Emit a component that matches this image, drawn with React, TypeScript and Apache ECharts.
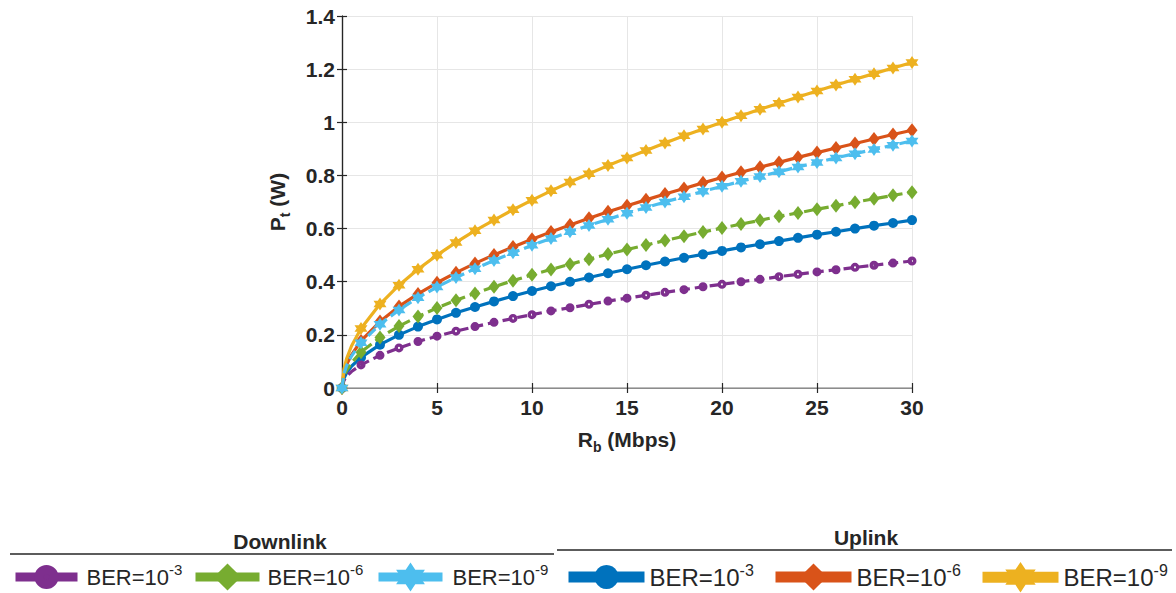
import React, { useEffect, useRef } from "react";
import * as echarts from "echarts";

const X_VALUES = [0, 0.1, 0.25, 0.5, 1, 2, 3, 4, 5, 6, 7, 8, 9, 10, 11, 12, 13, 14, 15, 16, 17, 18, 19, 20, 21, 22, 23, 24, 25, 26, 27, 28, 29, 30];

const DL_1E3 = [0, 0.028, 0.044, 0.062, 0.087, 0.123, 0.151, 0.175, 0.195, 0.214, 0.231, 0.247, 0.262, 0.276, 0.29, 0.302, 0.315, 0.327, 0.338, 0.349, 0.36, 0.37, 0.381, 0.39, 0.4, 0.409, 0.419, 0.428, 0.437, 0.445, 0.454, 0.462, 0.47, 0.478];
const DL_1E6 = [0, 0.043, 0.067, 0.095, 0.135, 0.19, 0.233, 0.269, 0.301, 0.33, 0.356, 0.381, 0.404, 0.426, 0.446, 0.466, 0.485, 0.504, 0.521, 0.538, 0.555, 0.571, 0.587, 0.602, 0.617, 0.631, 0.646, 0.659, 0.673, 0.686, 0.699, 0.712, 0.725, 0.737];
const DL_1E9 = [0, 0.054, 0.085, 0.12, 0.17, 0.24, 0.294, 0.34, 0.38, 0.416, 0.449, 0.48, 0.509, 0.537, 0.563, 0.588, 0.612, 0.635, 0.658, 0.679, 0.7, 0.72, 0.74, 0.759, 0.778, 0.796, 0.814, 0.832, 0.849, 0.866, 0.882, 0.898, 0.914, 0.93];
const UL_1E3 = [0, 0.036, 0.058, 0.082, 0.115, 0.163, 0.2, 0.231, 0.258, 0.283, 0.305, 0.326, 0.346, 0.365, 0.383, 0.4, 0.416, 0.432, 0.447, 0.462, 0.476, 0.49, 0.503, 0.516, 0.529, 0.541, 0.553, 0.565, 0.577, 0.588, 0.6, 0.611, 0.621, 0.632];
const UL_1E6 = [0, 0.056, 0.089, 0.125, 0.177, 0.25, 0.307, 0.354, 0.396, 0.434, 0.469, 0.501, 0.531, 0.56, 0.587, 0.613, 0.639, 0.663, 0.686, 0.708, 0.73, 0.751, 0.772, 0.792, 0.812, 0.831, 0.849, 0.868, 0.886, 0.903, 0.92, 0.937, 0.954, 0.97];
const UL_1E9 = [0, 0.071, 0.112, 0.158, 0.224, 0.316, 0.387, 0.447, 0.5, 0.548, 0.592, 0.632, 0.671, 0.707, 0.742, 0.775, 0.806, 0.837, 0.866, 0.894, 0.922, 0.949, 0.975, 1.0, 1.025, 1.049, 1.072, 1.095, 1.118, 1.14, 1.162, 1.183, 1.204, 1.225];

const X_TICKS = [0, 5, 10, 15, 20, 25, 30];
const Y_TICKS = [0, 0.2, 0.4, 0.6, 0.8, 1, 1.2, 1.4];

const STAR = "path://M50 0 L64.4 25 L93.3 25 L78.9 50 L93.3 75 L64.4 75 L50 100 L35.6 75 L6.7 75 L21.1 50 L6.7 25 L35.6 25 Z";
const RING = "path://M50 0 A50 50 0 1 1 50 100 A50 50 0 1 1 50 0 Z M50 38 A12 12 0 1 0 50 62 A12 12 0 1 0 50 38 Z";

const FONT = "'Liberation Sans', Arial, Helvetica, sans-serif";
const TXT = "#262626";

// drawing order: uplink first, downlink on top (as in the reference)
const SERIES_DEF = [
  { id: "ul3", exp: "-3", values: UL_1E3, color: "#0072BD", dashed: false, symbol: "circle", size: [10, 10], lg: { left: 563, w: 76, h: 30, lw: 11, pad: 0, fs: 24, ss: 16 } },
  { id: "ul6", exp: "-6", values: UL_1E6, color: "#D95319", dashed: false, symbol: "diamond", size: [11, 14], lg: { left: 770, w: 76, h: 34, lw: 11, pad: 0, fs: 24, ss: 16 } },
  { id: "ul9", exp: "-9", values: UL_1E9, color: "#EDB120", dashed: false, symbol: STAR, size: [13, 13], lg: { left: 977, w: 76, h: 38, lw: 11, pad: 0, fs: 24, ss: 16 } },
  { id: "dl3", exp: "-3", values: DL_1E3, color: "#7E2F8E", dashed: true, symbol: RING, size: [9, 9], lg: { left: 11, w: 62, h: 30, lw: 9, pad: 4, fs: 22, ss: 15 } },
  { id: "dl6", exp: "-6", values: DL_1E6, color: "#77AC30", dashed: true, symbol: "diamond", size: [11, 14], lg: { left: 191, w: 64, h: 34, lw: 9, pad: 3, fs: 22, ss: 15 } },
  { id: "dl9", exp: "-9", values: DL_1E9, color: "#4DBEEE", dashed: true, symbol: STAR, size: [13, 13], lg: { left: 374, w: 64, h: 36, lw: 9, pad: 5, fs: 22, ss: 15 } },
];

export default function App() {
  const ref = useRef<HTMLDivElement>(null);

  useEffect(() => {
    document.body.style.margin = "0";
    if (!ref.current) return;
    const chart = echarts.init(ref.current, undefined, { renderer: "svg" });

    const series = SERIES_DEF.map((s, k) => ({
      name: s.id,
      type: "line",
      xAxisIndex: 0,
      yAxisIndex: 0,
      symbol: s.symbol,
      symbolSize: s.size,
      showAllSymbol: true,
      smooth: false,
      lineStyle: { color: s.color, width: 3.2, type: s.dashed ? [10, 5] : "solid" },
      itemStyle: { color: s.color, borderWidth: 0 },
      data: X_VALUES.map((x, i) => {
        const isMarker = Number.isInteger(x);
        return isMarker ? [x, s.values[i]] : { value: [x, s.values[i]], symbol: "none" };
      }),
      z: 3 + k,
    }));

    const legend = SERIES_DEF.map((s) => ({
      data: [s.id],
      left: s.lg.left,
      top: 562,
      padding: 0,
      itemWidth: s.lg.w,
      itemHeight: s.lg.h,
      selectedMode: false,
      lineStyle: { width: s.lg.lw, type: "solid" },
      formatter: () => `{b|BER=10}{sup|${s.exp}}`,
      textStyle: {
        fontFamily: FONT,
        color: TXT,
        padding: [0, 0, 0, s.lg.pad],
        rich: {
          b: { fontFamily: FONT, fontSize: s.lg.fs, color: TXT, lineHeight: 30, verticalAlign: "middle" },
          sup: { fontFamily: FONT, fontSize: s.lg.ss, color: TXT, lineHeight: 15, verticalAlign: "top" },
        },
      },
    }));

    const axisLabelStyle = { fontFamily: FONT, fontSize: 21, fontWeight: "bold", color: TXT };
    const nameRich = {
      m: { fontFamily: FONT, fontSize: 21, fontWeight: "bold", color: TXT, lineHeight: 30, verticalAlign: "middle" },
      sub: { fontFamily: FONT, fontSize: 14, fontWeight: "bold", color: TXT, lineHeight: 14, verticalAlign: "bottom" },
    };

    chart.setOption({
      animation: false,
      backgroundColor: "#ffffff",
      grid: { left: 342, right: 264, top: 16, bottom: 205, containLabel: false },
      xAxis: [
        {
          type: "value",
          min: 0,
          max: 30,
          interval: 5,
          position: "bottom",
          axisLine: { show: true, lineStyle: { color: "#a6a6a6", width: 1.5 } },
          axisTick: { show: true, inside: true, length: 5, lineStyle: { color: TXT, width: 1.2 } },
          splitLine: { show: true, lineStyle: { color: "#e6e6e6", width: 1 } },
          axisLabel: { ...axisLabelStyle, margin: 9, formatter: (v: number) => (X_TICKS.includes(v) ? String(v) : "") },
          name: "{m|R}{sub|b}{m| (Mbps)}",
          nameLocation: "middle",
          nameGap: 36,
          nameTextStyle: { rich: nameRich },
        },
        {
          type: "value",
          min: 0,
          max: 30,
          interval: 5,
          position: "top",
          axisLine: { show: true, lineStyle: { color: "#8c8c8c", width: 1 } },
          axisTick: { show: true, inside: true, length: 5, lineStyle: { color: TXT, width: 1.2 } },
          splitLine: { show: false },
          axisLabel: { show: false },
        },
      ],
      yAxis: [
        {
          type: "value",
          min: 0,
          max: 1.4,
          interval: 0.2,
          position: "left",
          axisLine: { show: true, lineStyle: { color: TXT, width: 1.2 } },
          axisTick: { show: true, inside: true, length: 5, lineStyle: { color: TXT, width: 1.2 } },
          splitLine: { show: true, lineStyle: { color: "#e6e6e6", width: 1 } },
          axisLabel: {
            ...axisLabelStyle,
            margin: 7,
            formatter: (v: number) => {
              const t = Y_TICKS.find((k) => Math.abs(k - v) < 1e-9);
              return t === undefined ? "" : String(t);
            },
          },
          name: "{m|P}{sub|t}{m| (W)}",
          nameLocation: "middle",
          nameGap: 50,
          nameRotate: 90,
          nameTextStyle: { rich: nameRich },
        },
        {
          type: "value",
          min: 0,
          max: 1.4,
          interval: 0.2,
          position: "right",
          axisLine: { show: true, lineStyle: { color: TXT, width: 1.2 } },
          axisTick: { show: true, inside: true, length: 5, lineStyle: { color: TXT, width: 1.2 } },
          splitLine: { show: false },
          axisLabel: { show: false },
        },
      ],
      legend,
      graphic: [
        {
          type: "text",
          x: 280,
          y: 541,
          style: { text: "Downlink", font: `bold 21px ${FONT}`, fill: TXT, textAlign: "center", textVerticalAlign: "middle" },
        },
        {
          type: "line",
          shape: { x1: 10, y1: 554, x2: 554, y2: 554 },
          style: { stroke: TXT, lineWidth: 1.3 },
        },
        {
          type: "text",
          x: 866,
          y: 537,
          style: { text: "Uplink", font: `bold 21px ${FONT}`, fill: TXT, textAlign: "center", textVerticalAlign: "middle" },
        },
        {
          type: "line",
          shape: { x1: 557, y1: 550, x2: 1172, y2: 550 },
          style: { stroke: TXT, lineWidth: 1.3 },
        },
      ],
      series,
    });

    return () => chart.dispose();
  }, []);

  return <div ref={ref} style={{ width: 1176, height: 593 }} />;
}
